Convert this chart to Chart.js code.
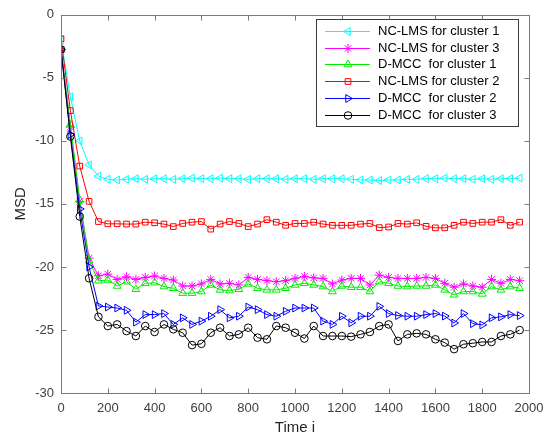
<!DOCTYPE html>
<html>
<head>
<meta charset="utf-8">
<script src="https://cdn.jsdelivr.net/npm/chart.js@4"></script>
<style>
  html, body { margin: 0; padding: 0; background: #fff; }
  #wrap { width: 553px; height: 440px; }
</style>
</head>
<body>
<div id="wrap"><canvas id="msd" width="553" height="440"></canvas></div>
<script>
// MSD learning curves, one marker every 40 iterations

var timeSteps = [0, 40, 80, 120, 160, 200, 240, 280, 320, 360, 400, 440, 480, 520, 560, 600, 640, 680, 720, 760,
    800, 840, 880, 920, 960, 1000, 1040, 1080, 1120, 1160, 1200, 1240, 1280, 1320, 1360, 1400, 1440, 1480, 1520, 1560,
    1600, 1640, 1680, 1720, 1760, 1800, 1840, 1880, 1920, 1960];

var xTickValues = [0, 200, 400, 600, 800, 1000, 1200, 1400, 1600, 1800, 2000];
var yTickValues = [0, -5, -10, -15, -20, -25, -30];

var nclmsCluster1 = [-2.0, -6.5, -10.0, -11.9, -12.8, -13.05, -13.1, -13.05, -13.0, -13.05,
    -13.0, -13.0, -13.05, -13.0, -12.95, -13.0, -13.0, -12.95, -13.0, -13.0,
    -13.05, -13.0, -13.0, -13.0, -13.05, -13.0, -13.0, -13.05, -13.0, -13.0,
    -13.0, -13.05, -13.1, -13.1, -13.15, -13.1, -13.1, -13.05, -13.05, -13.0,
    -13.0, -12.95, -13.0, -13.0, -13.05, -13.0, -13.05, -13.0, -13.0, -12.95];

var nclmsCluster3 = [-2.75, -8.9, -14.8, -19.3, -20.7, -20.57, -20.99, -20.78, -20.99, -20.83,
    -20.72, -20.91, -21.04, -21.51, -21.51, -21.35, -20.99, -21.35, -21.3, -21.43,
    -20.83, -20.99, -21.09, -21.17, -21.09, -20.91, -20.75, -20.87, -20.91, -21.35,
    -21.04, -20.91, -20.91, -21.43, -20.65, -20.83, -20.91, -20.91, -20.91, -20.83,
    -20.91, -21.3, -21.61, -21.35, -21.51, -21.61, -20.99, -21.3, -20.99, -21.09];

var dmccCluster1 = [-2.75, -8.7, -14.7, -19.5, -21.1, -21.04, -21.51, -21.17, -21.77, -21.3,
    -21.25, -21.56, -21.69, -22.08, -22.08, -21.95, -21.43, -21.82, -21.87, -21.77,
    -21.35, -21.69, -21.82, -21.82, -21.69, -21.43, -21.3, -21.43, -21.56, -21.95,
    -21.51, -21.61, -21.61, -21.95, -21.17, -21.3, -21.51, -21.56, -21.51, -21.51,
    -21.43, -21.82, -22.21, -21.95, -21.95, -22.14, -21.56, -21.82, -21.56, -21.69];

var nclmsCluster2 = [-1.9, -7.6, -12.0, -14.8, -16.4, -16.58, -16.58, -16.6, -16.6, -16.45,
    -16.5, -16.6, -16.8, -16.55, -16.45, -16.4, -17.0, -16.6, -16.4, -16.55,
    -16.8, -16.6, -16.25, -16.45, -16.7, -16.55, -16.55, -16.45, -16.6, -16.7,
    -16.7, -16.7, -16.6, -16.55, -16.88, -16.83, -16.55, -16.6, -16.5, -16.78,
    -16.9, -16.9, -16.7, -16.45, -16.55, -16.45, -16.45, -16.25, -16.7, -16.45];

var dmccCluster2 = [-2.75, -9.5, -15.4, -20.0, -23.1, -23.18, -23.26, -23.44, -24.38, -23.78,
    -23.78, -23.7, -24.56, -24.04, -24.56, -24.3, -23.91, -23.39, -24.04, -23.91,
    -23.18, -23.39, -23.78, -23.91, -23.52, -23.26, -23.26, -23.26, -24.3, -24.56,
    -23.91, -24.43, -23.91, -23.91, -23.13, -23.7, -23.86, -23.91, -23.91, -23.78,
    -23.7, -23.9, -24.45, -23.7, -24.5, -24.6, -24.04, -23.96, -23.78, -23.86];

var dmccCluster3 = [-2.75, -9.65, -16.0, -20.9, -23.96, -24.69, -24.56, -25.09, -25.48, -24.69,
    -25.16, -24.56, -24.95, -25.22, -26.2, -26.1, -25.22, -24.82, -25.48, -25.35,
    -24.82, -25.61, -25.74, -24.69, -24.82, -25.22, -25.68, -24.69, -25.48, -25.48,
    -25.48, -25.53, -25.35, -25.16, -24.69, -24.56, -25.87, -25.35, -25.27, -25.35,
    -25.74, -26.0, -26.52, -26.13, -26.05, -25.95, -25.95, -25.48, -25.35, -25.01];

function toPoints(values) {
    return timeSteps.map(function (t, i) { return { x: t, y: values[i] }; });
}

function series(label, values, color, style, radius, rotation, order) {
    return {
        label: label,
        data: toPoints(values),
        borderColor: color,
        backgroundColor: 'rgba(0,0,0,0)',
        borderWidth: 1,
        pointStyle: style,
        pointRadius: radius,
        pointRotation: rotation,
        pointBorderWidth: 1,
        pointBorderColor: color,
        pointBackgroundColor: 'rgba(0,0,0,0)',
        tension: 0,
        fill: false,
        order: order
    };
}

// MATLAB style box with inward ticks on all four sides
var axesBox = {
    id: 'axesBox',
    afterDatasetsDraw: function (chart) {
        var ctx = chart.ctx, a = chart.chartArea;
        var xs = chart.scales.x, ys = chart.scales.y;
        var L = Math.round(a.left) + 0.5, R = Math.round(a.right) + 0.5;
        var T = Math.round(a.top) + 0.5, B = Math.round(a.bottom) + 0.5;
        ctx.save();
        ctx.strokeStyle = '#7a7a7a';
        ctx.lineWidth = 1;
        ctx.strokeRect(L, T, R - L, B - T);
        ctx.beginPath();
        xTickValues.forEach(function (v) {
            var px = Math.round(xs.getPixelForValue(v)) + 0.5;
            ctx.moveTo(px, B); ctx.lineTo(px, B - 5);
            ctx.moveTo(px, T); ctx.lineTo(px, T + 5);
        });
        yTickValues.forEach(function (v) {
            var py = Math.round(ys.getPixelForValue(v)) + 0.5;
            ctx.moveTo(L, py); ctx.lineTo(L + 5, py);
            ctx.moveTo(R, py); ctx.lineTo(R - 5, py);
        });
        ctx.stroke();
        ctx.restore();
    }
};

var legendBox = {
    id: 'legendBox',
    afterDraw: function (chart) {
        var ctx = chart.ctx;
        var left = 316, top = 19, w = 202, h = 107, rowH = 16.7;
        ctx.save();
        ctx.fillStyle = '#fff';
        ctx.fillRect(left, top, w, h);
        ctx.strokeStyle = '#3a3a3a';
        ctx.lineWidth = 1;
        ctx.strokeRect(left + 0.5, top + 0.5, w, h);
        ctx.font = '13px "Liberation Sans", Arial, sans-serif';
        ctx.textBaseline = 'middle';
        chart.data.datasets.forEach(function (ds, i) {
            var y = Math.round(top + 12 + i * rowH) + 0.5;
            ctx.strokeStyle = ds.borderColor;
            ctx.lineWidth = 1;
            ctx.beginPath();
            ctx.moveTo(left + 9, y);
            ctx.lineTo(left + 54, y);
            ctx.stroke();
            ctx.fillStyle = 'rgba(0,0,0,0)';
            Chart.helpers.drawPoint(ctx, {
                pointStyle: ds.pointStyle,
                rotation: ds.pointRotation,
                radius: ds.pointRadius,
                borderWidth: 1
            }, left + 32, y);
            ctx.fillStyle = '#000';
            ctx.fillText(ds.label, left + 62, y);
        });
        ctx.restore();
    }
};

var tickFont = { family: '"Liberation Sans", Arial, sans-serif', size: 13 };
var titleFont = { family: '"Liberation Sans", Arial, sans-serif', size: 15 };

var config = {
    type: 'line',
    data: {
        datasets: [
            series('NC-LMS for cluster 1', nclmsCluster1, '#00ffff', 'triangle', 4.5, -90, 5),
            series('NC-LMS for cluster 3', nclmsCluster3, '#ff00ff', 'star', 4.5, 0, 4),
            series('D-MCC  for cluster 1', dmccCluster1, '#00ee00', 'triangle', 4.5, 0, 3),
            series('NC-LMS for cluster 2', nclmsCluster2, '#ff0000', 'rect', 4, 0, 2),
            series('D-MCC  for cluster 2', dmccCluster2, '#0000ff', 'triangle', 4.5, 90, 1),
            series('D-MCC  for cluster 3', dmccCluster3, '#000000', 'circle', 3.8, 0, 0)
        ]
    },
    options: {
        responsive: false,
        animation: false,
        devicePixelRatio: 1,
        layout: { padding: { top: 10, right: 24, bottom: 0, left: 0 } },
        plugins: {
            legend: { display: false },
            tooltip: { enabled: false }
        },
        scales: {
            x: {
                type: 'linear',
                min: 0,
                max: 2000,
                afterBuildTicks: function (s) {
                    s.ticks = xTickValues.map(function (v) { return { value: v }; });
                },
                afterFit: function (s) { s.height = 47; },
                grid: { display: false, drawTicks: false },
                border: { display: false },
                ticks: {
                    padding: 8,
                    maxRotation: 0,
                    color: '#404040',
                    font: tickFont,
                    callback: function (v) { return String(v); }
                },
                title: {
                    display: true,
                    text: 'Time i',
                    color: '#262626',
                    padding: { top: 0, bottom: 3 },
                    font: titleFont
                }
            },
            y: {
                type: 'linear',
                min: -30,
                max: 0,
                afterBuildTicks: function (s) {
                    s.ticks = yTickValues.map(function (v) { return { value: v }; });
                },
                afterFit: function (s) { s.width = 61; },
                grid: { display: false, drawTicks: false },
                border: { display: false },
                ticks: {
                    padding: 7,
                    color: '#404040',
                    font: tickFont,
                    callback: function (v) { return String(v); }
                },
                title: {
                    display: true,
                    text: 'MSD',
                    color: '#262626',
                    padding: { top: 12, bottom: 0 },
                    font: titleFont
                }
            }
        }
    },
    plugins: [axesBox, legendBox]
};

window.onload = function () {
    var ctx = document.getElementById('msd').getContext('2d');
    window.msdChart = new Chart(ctx, config);
};
</script>
</body>
</html>
